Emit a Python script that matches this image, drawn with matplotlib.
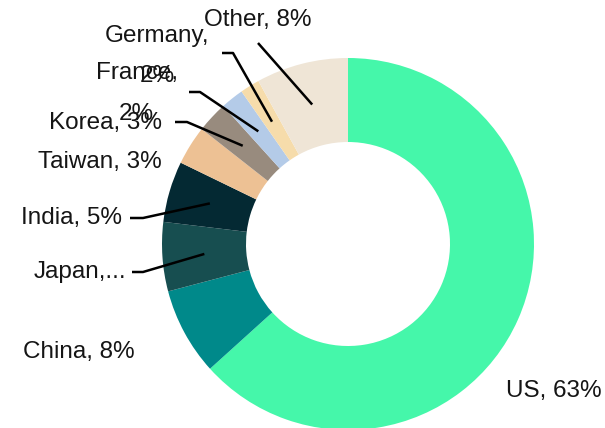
import numpy as np
import matplotlib
matplotlib.use("Agg")
import matplotlib.pyplot as plt

# ---- data ----
countries = ["US", "China", "Japan", "India", "Taiwan", "Korea", "France", "Germany", "Other"]
shares = [63.3, 7.6, 6.0, 5.3, 3.4, 2.7, 2.0, 1.7, 8.0]
label_texts = ["US, 63%", "China, 8%", "Japan,...", "India, 5%", "Taiwan, 3%",
               "Korea, 3%", "France,\n2%", "Germany,\n2%", "Other, 8%"]
colors = ["#45F7AA", "#00898A", "#174E50", "#042933", "#EDC194",
          "#988B7E", "#B4CBE8", "#F6DCAB", "#EFE5D6"]

W, H = 605, 428
fig = plt.figure(figsize=(W / 100, H / 100), dpi=100)
ax = fig.add_axes([0, 0, 1, 1])

cx, cy = 348, H - 244
R_out, R_in = 186, 102
wedges, _ = ax.pie(shares, colors=colors, startangle=90, counterclock=False,
                   radius=R_out, center=(cx, cy),
                   wedgeprops=dict(width=R_out - R_in, linewidth=0))
ax.set_xlim(0, W)
ax.set_ylim(0, H)
ax.set_aspect("equal")
ax.axis("off")

FONT = "Liberation Sans"
FS = 17.5

# label layout (pixel coords, y down): (x, y, ha, leader path points or None)
layout = {
    "US":      (506, 390.5, "left", None),
    "China":   (135, 351.7, "right", None),
    "Japan":   (126, 271.7, "right", [(132, 272), (143, 272)]),
    "India":   (121.7, 217.7, "right", [(130, 218), (143, 218)]),
    "Taiwan":  (161.7, 161.7, "right", None),
    "Korea":   (161.7, 122.7, "right", [(175, 122), (187, 122)]),
    "France":  (136.5, 93.5, "center", [(189, 92), (200, 92)]),
    "Germany": (157.5, 56, "center", [(222, 53), (233, 53)]),
    "Other":   (258, 19.5, "center", [(258, 43)]),
}

R_mid = (R_out + R_in) / 2
for name, txt, w in zip(countries, label_texts, wedges):
    x, y, ha, path = layout[name]
    ax.text(x, H - y, txt, ha=ha, va="center", multialignment="center",
            fontsize=FS, family=FONT, color="#151515", linespacing=2.1)
    if path is not None:
        mid = np.deg2rad((w.theta1 + w.theta2) / 2)
        ex = w.center[0] + R_mid * np.cos(mid)
        ey = w.center[1] + R_mid * np.sin(mid)
        xs = [p[0] for p in path] + [ex]
        ys = [H - p[1] for p in path] + [ey]
        ax.plot(xs, ys, color="black", lw=1.8, solid_capstyle="butt")

fig.savefig("out.png", dpi=100)
